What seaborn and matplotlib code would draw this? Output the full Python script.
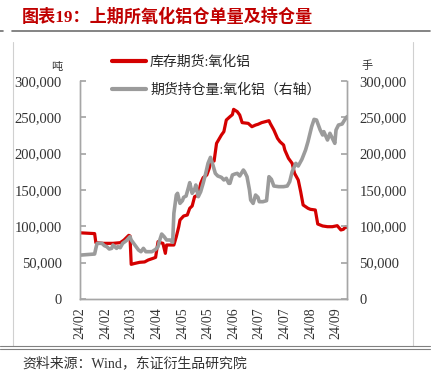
import matplotlib
matplotlib.use("Agg")
import matplotlib.pyplot as plt
import matplotlib.lines as mlines
import seaborn as sns
import pandas as pd
import numpy as np
from matplotlib.ticker import FuncFormatter

# ---------------- data ----------------
red_dates = ["2024-02-07", "2024-02-08", "2024-02-19", "2024-02-20", "2024-02-26", "2024-03-05",
             "2024-03-11", "2024-03-14", "2024-03-18", "2024-03-19", "2024-03-20", "2024-03-23",
             "2024-03-27", "2024-03-31", "2024-04-03", "2024-04-07", "2024-04-09", "2024-04-11",
             "2024-04-13", "2024-04-15", "2024-04-17", "2024-04-18", "2024-04-24", "2024-04-26",
             "2024-04-28", "2024-04-29", "2024-05-02", "2024-05-05", "2024-05-07", "2024-05-09",
             "2024-05-11", "2024-05-14", "2024-05-16", "2024-05-18", "2024-05-21", "2024-05-23",
             "2024-05-24", "2024-05-27", "2024-05-29", "2024-06-02", "2024-06-04", "2024-06-06",
             "2024-06-09", "2024-06-11", "2024-06-12", "2024-06-15", "2024-06-17", "2024-06-19",
             "2024-06-24", "2024-06-27", "2024-06-30", "2024-07-02", "2024-07-05", "2024-07-11",
             "2024-07-12", "2024-07-15", "2024-07-18", "2024-07-20", "2024-07-23", "2024-07-24",
             "2024-07-27", "2024-07-30", "2024-08-01", "2024-08-04", "2024-08-06", "2024-08-08",
             "2024-08-12", "2024-08-14", "2024-08-18", "2024-08-20", "2024-08-24", "2024-08-28",
             "2024-09-01", "2024-09-05", "2024-09-08", "2024-09-10", "2024-09-12", "2024-09-13"]
red_values = [91000, 91000, 90000, 77500, 76600, 76600,
              77500, 81000, 87600, 86700, 47700, 49000,
              50500, 51000, 53700, 56000, 57300, 78900,
              77500, 76600, 62800, 74300, 74300, 85800,
              99500, 108700, 114200, 115600, 124800, 128000,
              140800, 143100, 159200, 167000, 170600, 179800,
              189000, 189900, 214200, 225700, 230300, 246300,
              250900, 253700, 261000, 257800, 253200, 242700,
              241700, 237100, 239400, 240400, 242700, 245400,
              241700, 232600, 221100, 216500, 211900, 205000,
              193600, 186700, 172900, 163800, 147700, 129400,
              124800, 123400, 122500, 103200, 100500, 99500,
              99500, 100900, 95000, 95900, 99500, 98600]

gray_dates = ["2024-02-07", "2024-02-08", "2024-02-19", "2024-02-20", "2024-02-21", "2024-02-25",
              "2024-02-27", "2024-02-29", "2024-03-02", "2024-03-04", "2024-03-05", "2024-03-08",
              "2024-03-09", "2024-03-11", "2024-03-13", "2024-03-16", "2024-03-19", "2024-03-20",
              "2024-03-22", "2024-03-24", "2024-03-26", "2024-03-28", "2024-03-30", "2024-04-01",
              "2024-04-06", "2024-04-09", "2024-04-11", "2024-04-12", "2024-04-14", "2024-04-16",
              "2024-04-18", "2024-04-21", "2024-04-23", "2024-04-24", "2024-04-26", "2024-04-27",
              "2024-04-29", "2024-05-01", "2024-05-02", "2024-05-04", "2024-05-06", "2024-05-07",
              "2024-05-09", "2024-05-11", "2024-05-12", "2024-05-14", "2024-05-16", "2024-05-18",
              "2024-05-20", "2024-05-22", "2024-05-24", "2024-05-26", "2024-05-28", "2024-05-30",
              "2024-06-02", "2024-06-04", "2024-06-06", "2024-06-08", "2024-06-09", "2024-06-11",
              "2024-06-13", "2024-06-15", "2024-06-17", "2024-06-20", "2024-06-21", "2024-06-23",
              "2024-06-25", "2024-06-26", "2024-06-28", "2024-06-30", "2024-07-02", "2024-07-03",
              "2024-07-06", "2024-07-09", "2024-07-11", "2024-07-13", "2024-07-15", "2024-07-19",
              "2024-07-23", "2024-07-26", "2024-07-28", "2024-07-30", "2024-08-02", "2024-08-04",
              "2024-08-07", "2024-08-10", "2024-08-12", "2024-08-13", "2024-08-15", "2024-08-17",
              "2024-08-19", "2024-08-22", "2024-08-24", "2024-08-25", "2024-08-28", "2024-08-30",
              "2024-09-01", "2024-09-03", "2024-09-04", "2024-09-06", "2024-09-09", "2024-09-11",
              "2024-09-13"]
gray_values = [60500, 60500, 61900, 69700, 76600, 76600,
               73400, 72000, 68800, 69700, 74300, 69700,
               72000, 70600, 76600, 80300, 85800, 81200,
               76600, 72000, 67400, 65100, 69700, 65100,
               65100, 68300, 72000, 78900, 89400, 85800,
               81200, 81200, 78000, 117900, 143100, 145400,
               131600, 135300, 139900, 141700, 153700, 160100,
               145400, 150900, 156900, 140800, 147700, 159200,
               172000, 186700, 194900, 184400, 172900, 169300,
               167400, 163800, 166100, 159200, 159200, 170600,
               172000, 172900, 169300, 177500, 175200, 168300,
               150000, 136200, 131600, 143100, 139900, 133900,
               133900, 135300, 168300, 164700, 155500, 154600,
               154600, 155500, 161500, 175200, 186700, 183000,
               192200, 205000, 216500, 223400, 237100, 247200,
               246300, 232600, 225700, 230300, 218800, 228000,
               221100, 214200, 232600, 239400, 240800, 246300,
               250900]

tick_labels = ["24/02", "24/02", "24/03", "24/04", "24/05", "24/05",
               "24/06", "24/07", "24/07", "24/08", "24/09"]
series_names = ["库存期货:氧化铝", "期货持仓量:氧化铝（右轴）"]
title_text = "图表19：上期所氧化铝仓单量及持仓量"
source_text = "资料来源：Wind，东证衍生品研究院"
left_unit = "吨"
right_unit = "手"

red_df = pd.DataFrame({"date": pd.to_datetime(red_dates), "value": red_values})
gray_df = pd.DataFrame({"date": pd.to_datetime(gray_dates), "value": gray_values})

# ---------------- style ----------------
sns.set_theme(style="white")
plt.rcParams["font.family"] = ["Liberation Serif", "Noto Sans CJK SC", "DejaVu Sans"]
plt.rcParams["axes.unicode_minus"] = False

RED = "#D40000"
GRAY = "#9B9B9B"
AXC = "#A6A6A6"

fig = plt.figure(figsize=(4.35, 3.8), dpi=100)
ax = fig.add_axes([80 / 435, 1 - 299 / 380, (347 - 80) / 435, (299 - 81) / 380])
ax2 = ax.twinx()

sns.lineplot(data=red_df, x="date", y="value", ax=ax, color=RED, linewidth=2.3,
             legend=False)
sns.lineplot(data=gray_df, x="date", y="value", ax=ax2, color=GRAY, linewidth=2.6,
             legend=False)

start = pd.Timestamp("2024-02-07")
end = pd.Timestamp("2024-09-13")
ticks = pd.date_range(start, periods=len(tick_labels), freq="21D")
for a in (ax, ax2):
    a.set_xlim(start, end)
    a.set_ylim(0, 300000)
    a.set_xlabel("")
    a.set_ylabel("")
    a.set_yticks(np.arange(0, 300001, 50000))
    a.yaxis.set_major_formatter(FuncFormatter(lambda v, p: f"{int(v):,}"))
    for s in a.spines.values():
        s.set_color(AXC)
        s.set_linewidth(1.0)
    a.spines["top"].set_visible(False)
    a.grid(False)

ax.set_xticks(ticks)
ax.set_xticklabels(tick_labels, rotation=90, fontsize=10, color="#333333")
ax.tick_params(axis="x", direction="in", length=4, color=AXC, pad=6)
ax.tick_params(axis="y", direction="in", length=4, color=AXC, labelsize=10.5,
               labelcolor="#333333", pad=13)
ax2.tick_params(axis="y", direction="in", length=4, color=AXC, labelsize=10.5,
                labelcolor="#333333", pad=9)

# unit labels
fig.text(57 / 435, 1 - 67 / 380, left_unit, fontsize=8, color="#333333",
         ha="center", va="center", family=["Noto Sans CJK SC"])
fig.text(367 / 435, 1 - 66 / 380, right_unit, fontsize=8, color="#333333",
         ha="center", va="center", family=["Noto Sans CJK SC"])

# legend
h1 = mlines.Line2D([], [], color=RED, linewidth=3)
h2 = mlines.Line2D([], [], color=GRAY, linewidth=3)
fig.legend([h1, h2], series_names, loc="upper left",
           bbox_to_anchor=(100 / 435, 1 - 43 / 380), frameon=False,
           handlelength=2.4, handletextpad=0.3, labelspacing=1.05,
           prop={"family": ["Liberation Serif", "Noto Sans CJK SC"], "size": 10})

# title and frame
fig.text(22 / 435, 1 - 17 / 380, title_text, fontsize=12.3, color="#C00000",
         fontweight="bold", ha="left", va="center",
         family=["Liberation Serif", "Noto Sans CJK SC"])
fig.add_artist(mlines.Line2D([12 / 435, 430 / 435], [1 - 31 / 380, 1 - 31 / 380],
                             color="#707070", linewidth=1.2))
fig.add_artist(mlines.Line2D([0, 3 / 435], [1 - 31 / 380, 1 - 31 / 380],
                             color="#707070", linewidth=1.2))
fig.add_artist(mlines.Line2D([13 / 435, 13 / 435], [1 - 42 / 380, 1 - 346 / 380],
                             color="#D0D0D0", linewidth=0.8))
fig.add_artist(mlines.Line2D([413 / 435, 413 / 435], [1 - 42 / 380, 1 - 346 / 380],
                             color="#D0D0D0", linewidth=0.8))
fig.add_artist(mlines.Line2D([0, 430 / 435], [1 - 346 / 380, 1 - 346 / 380],
                             color="#808080", linewidth=0.8))
fig.add_artist(mlines.Line2D([0, 430 / 435], [1 - 348.5 / 380, 1 - 348.5 / 380],
                             color="#808080", linewidth=0.8))
fig.text(22 / 435, 1 - 363 / 380, source_text, fontsize=10, color="#333333",
         ha="left", va="center", family=["Liberation Serif", "Noto Sans CJK SC"])

fig.savefig("out.png", dpi=100)
